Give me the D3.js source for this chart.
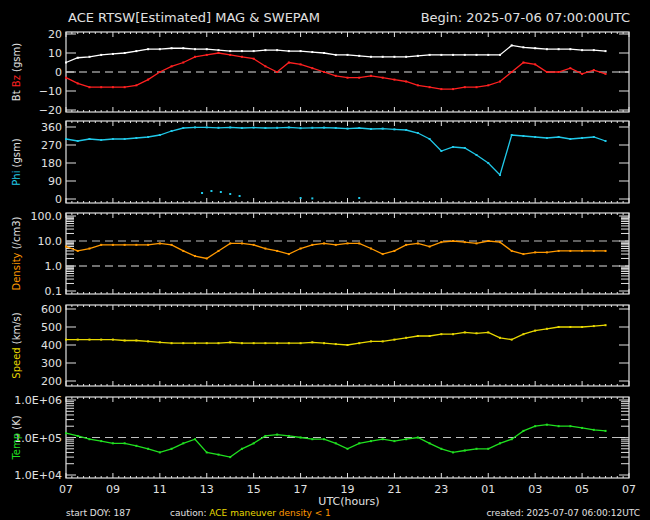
<!DOCTYPE html>
<html><head><meta charset="utf-8">
<script src="https://cdn.jsdelivr.net/npm/d3@7"></script>
<style>body{margin:0;background:#000}svg{display:block}text{font-family:"DejaVu Sans",sans-serif;}</style>
</head><body><svg id="c" width="650" height="520"></svg>
<script>
// Time in hours since 2025-07-06 07:00 UTC, 30-minute steps
const step = 0.5;
const hourLabels = ["07","09","11","13","15","17","19","21","23","01","03","05","07"];
const bt = [5,7.5,8,9, 9.5,10,11,12, 12,12.5,12.5,12, 12,11.5,11,11, 11,11.5,11.5,11, 11,10.5,10,9, 9,8.5,8,8, 8,8,8.5,9, 9,9,9,9, 9,9,14,13, 12.5,12,12,12, 11.5,11.5,11];
const bz = [-3,-6,-8,-8, -8,-8,-7,-4, 0,3,5,8, 9,10,9,8, 7,3,0,5, 4,2,0,-2, -3,-3,-2,-3, -4,-5,-7,-8, -9,-9,-8,-8, -7,-5,0,5, 4,0,0,2, -1,1,-1];
const phi = [300,290,300,295, 300,300,305,310, 320,340,355,358, 358,356,358,355, 357,355,356,358, 354,356,357,355, 352,355,350,352, 348,345,330,300, 240,260,255,220, 180,120,320,315, 310,305,310,300, 305,310,290];
const phiWrapT = [5.8,6.2,6.6,7.0,7.4,10,10.5,12.5];
const phiWrap = [30,40,35,25,15,5,3,5];
const density = [6,4,5,7, 7,7,7,7, 8,7,4,2.5, 2,4,8,8, 7,5,4,3, 5,7,8,7, 8,8,5,3, 4,7,8,6, 9,10,9,8, 10,9,4,3, 3.5,3.5,4,4, 4,4,4];
const speed = [430,430,430,430, 430,425,425,420, 415,410,410,410, 410,410,415,410, 410,410,410,410, 410,415,410,405, 400,410,420,420, 430,440,450,450, 460,460,470,465, 470,440,430,460, 480,490,500,500, 500,505,510];
const temp = [1.3e5,1.1e5,9e4,8e4, 7e4,7e4,6e4,5e4, 4e4,5e4,7e4,9e4, 4e4,3.5e4,3e4,5e4, 7e4,1.1e5,1.2e5,1.1e5, 1e5,9e4,9e4,7e4, 5e4,7e4,8e4,9e4, 8e4,9e4,1e5,7e4, 5e4,4e4,4.5e4,5e4, 5e4,7e4,9e4,1.5e5, 2e5,2.2e5,2e5,2e5, 1.8e5,1.6e5,1.5e5];

const svg = d3.select("#c");
const x = d3.scaleLinear().domain([0,24]).range([66,629]);
const W="#e0e0e0";
svg.append("text").attr("x",68).attr("y",22).attr("fill",W).attr("font-size",13).text("ACE RTSW[Estimated] MAG & SWEPAM");
svg.append("text").attr("x",630).attr("y",22).attr("fill",W).attr("font-size",13).attr("text-anchor","end").text("Begin: 2025-07-06 07:00:00UTC");

function panel(top,bot,y,ticks,fmt,labelParts,log){
  const g=svg.append("g");
  g.append("rect").attr("x",66).attr("y",top).attr("width",563).attr("height",bot-top).attr("fill","none").attr("stroke",W).attr("stroke-width",1.2);
  // x minor ticks
  for(let h=0;h<=24;h+=0.25){const len=(h%2===0)?5:2;
    g.append("line").attr("x1",x(h)).attr("x2",x(h)).attr("y1",top).attr("y2",top+len).attr("stroke",W);
    g.append("line").attr("x1",x(h)).attr("x2",x(h)).attr("y1",bot).attr("y2",bot-len).attr("stroke",W);}
  ticks.forEach(v=>{
    g.append("line").attr("x1",66).attr("x2",76).attr("y1",y(v)).attr("y2",y(v)).attr("stroke",W);
    g.append("line").attr("x1",629).attr("x2",619).attr("y1",y(v)).attr("y2",y(v)).attr("stroke",W);
    g.append("text").attr("x",62).attr("y",y(v)+4).attr("fill",W).attr("font-size",11).attr("text-anchor","end").text(fmt(v));
  });
  if(log){const [a,b]=y.domain();
    for(let e=Math.log10(a);e<Math.log10(b);e++){for(let m=2;m<10;m++){const v=m*Math.pow(10,e);
      g.append("line").attr("x1",66).attr("x2",74).attr("y1",y(v)).attr("y2",y(v)).attr("stroke",W);
      g.append("line").attr("x1",629).attr("x2",621).attr("y1",y(v)).attr("y2",y(v)).attr("stroke",W);}}}
  const cy=(top+bot)/2;
  const t=g.append("text").attr("transform",`translate(20,${cy}) rotate(-90)`).attr("text-anchor","middle").attr("font-size",10);
  labelParts.forEach(([s,c])=>t.append("tspan").attr("fill",c).text(s));
  return g;
}
function dash(y,v,col){svg.append("line").attr("x1",66).attr("x2",629).attr("y1",y(v)).attr("y2",y(v)).attr("stroke",col||W).attr("stroke-dasharray","8,5").attr("stroke-width",1.2);}
function series(vals,y,col,tArr){
  const pts=vals.map((v,i)=>[x(tArr?tArr[i]:i*step),y(v)]);
  if(!tArr) svg.append("path").attr("d",d3.line()(pts)).attr("fill","none").attr("stroke",col).attr("stroke-width",1.3);
  svg.append("g").selectAll("rect").data(pts).join("rect").attr("x",d=>d[0]-1).attr("y",d=>d[1]-1).attr("width",2).attr("height",2).attr("fill",col);
}
const YEL="#e8d800",ORA="#ff9900",CY="#20c8e8",GR="#20e020",RED="#ff2020";
// Panel 1
const y1=d3.scaleLinear().domain([-20,20]).range([110,34]);
panel(32,112,y1,[-20,-10,0,10,20],d3.format("d"),[["Bt ",W],["Bz",RED],["  (gsm)",W]]);
dash(y1,0);
series(bz,y1,RED); series(bt,y1,"#ffffff");
// Panel 2
const y2=d3.scaleLinear().domain([0,360]).range([199,127]);
panel(121,203,y2,[0,90,180,270,360],d3.format("d"),[["Phi",CY],["  (gsm)",W]]);
series(phi,y2,CY); series(phiWrap,y2,CY,phiWrapT);
// Panel 3
const y3=d3.scaleLog().domain([0.1,100]).range([291,216]);
panel(213,294,y3,[0.1,1,10,100],d3.format(".1f"),[["Density",ORA],["  (/cm3)",W]],true);
dash(y3,1); dash(y3,10,"#c0c0c0");
series(density,y3,ORA);
// Panel 4
const y4=d3.scaleLinear().domain([200,600]).range([381,309]);
panel(305,386,y4,[200,300,400,500,600],d3.format("d"),[["Speed",YEL],["  (km/s)",W]]);
series(speed,y4,YEL);
// Panel 5
const y5=d3.scaleLog().domain([1e4,1e6]).range([475,400]);
panel(397,478,y5,[1e4,1e5,1e6],v=>"1.0E+0"+Math.round(Math.log10(v)),[["Temp",GR],["  (K)",W]],true);
dash(y5,1e5,"#c0c0c0");
series(temp,y5,GR);
// X labels
hourLabels.forEach((l,i)=>svg.append("text").attr("x",x(i*2)).attr("y",493).attr("fill",W).attr("font-size",11).attr("text-anchor","middle").text(l));
svg.append("text").attr("x",349).attr("y",505).attr("fill",W).attr("font-size",11).attr("text-anchor","middle").text("UTC(hours)");
svg.append("text").attr("x",66).attr("y",516).attr("fill",W).attr("font-size",9).text("start DOY: 187");
const ft=svg.append("text").attr("x",170).attr("y",516).attr("font-size",9);
ft.append("tspan").attr("fill",W).text("caution:  ");
ft.append("tspan").attr("fill",YEL).text("ACE maneuver  ");
ft.append("tspan").attr("fill",ORA).text("density < 1");
svg.append("text").attr("x",640).attr("y",516).attr("fill",W).attr("font-size",9).attr("text-anchor","end").text("created: 2025-07-07 06:00:12UTC");
</script></body></html>
